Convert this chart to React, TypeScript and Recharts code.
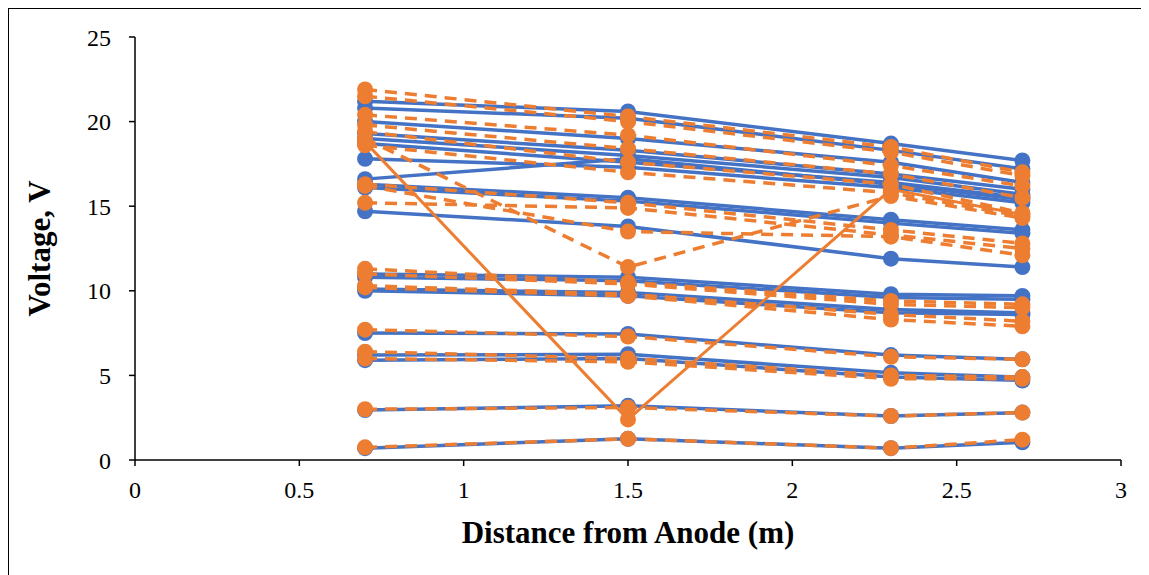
import React from 'react';
import { LineChart, Line, XAxis, YAxis } from 'recharts';

const xDistances = [0.7, 1.5, 2.3, 2.7];
const xTicks = [0, 0.5, 1, 1.5, 2, 2.5, 3];
const yTicks = [0, 5, 10, 15, 20, 25];

// Blue solid series (voltage at each distance)
const blueSeries: number[][] = [
  [21.2, 20.6, 18.7, 17.7],
  [20.8, 20.2, 18.3, 17.2],
  [20.0, 19.0, 17.6, 16.4],
  [19.3, 18.3, 16.9, 16.0],
  [19.0, 18.0, 16.7, 15.7],
  [18.7, 17.6, 16.4, 15.5],
  [17.8, 17.3, 16.1, 15.2],
  [16.6, 17.8, 16.3, 15.4],
  [16.3, 15.5, 14.2, 13.6],
  [16.1, 15.3, 14.0, 13.4],
  [14.7, 13.8, 11.9, 11.4],
  [11.0, 10.8, 9.8, 9.7],
  [10.8, 10.6, 9.6, 9.5],
  [10.1, 9.9, 8.9, 8.7],
  [10.0, 9.7, 8.7, 8.6],
  [7.5, 7.45, 6.2, 5.95],
  [6.2, 6.25, 5.15, 4.9],
  [5.9, 6.0, 4.9, 4.7],
  [2.95, 3.2, 2.6, 2.8],
  [0.7, 1.25, 0.7, 1.05],
];

// Orange dashed series
const orangeDashedSeries: number[][] = [
  [21.9, 20.3, 18.5, 17.0],
  [21.5, 20.0, 18.2, 16.8],
  [20.4, 19.2, 17.4, 16.2],
  [19.8, 18.4, 16.9, 15.5],
  [19.4, 17.6, 16.3, 14.6],
  [19.0, 11.4, 15.6, 14.3],
  [18.6, 17.0, 15.8, 14.4],
  [16.3, 15.2, 13.6, 12.8],
  [16.2, 13.5, 13.2, 12.1],
  [15.2, 14.9, 13.3, 12.5],
  [11.3, 10.5, 9.4, 9.2],
  [11.0, 10.4, 9.2, 9.0],
  [10.3, 9.8, 8.6, 8.2],
  [10.2, 9.7, 8.3, 7.9],
  [7.7, 7.3, 6.1, 5.95],
  [6.4, 6.0, 5.0, 4.9],
  [6.0, 5.8, 4.8, 4.8],
  [3.0, 3.1, 2.6, 2.8],
  [0.75, 1.25, 0.7, 1.2],
];

// Orange solid series
const orangeSolidSeries: number[][] = [[18.8, 2.4, 16.0, 14.5]];

const BLUE = '#4472C4';
const ORANGE = '#ED7D31';
const FONT = "'Liberation Serif', 'Times New Roman', serif";

const toPoints = (vals: number[]) => vals.map((v, i) => ({ x: xDistances[i], y: v }));

const XTitle = (props: any) => {
  const vb = props.viewBox || {};
  return (
    <text x={vb.x + vb.width / 2} y={vb.y + 83} textAnchor="middle" style={{ fontFamily: FONT, fontWeight: 'bold', fontSize: 31 }} fill="#000">
      Distance from Anode (m)
    </text>
  );
};

const YTitle = (props: any) => {
  const vb = props.viewBox || {};
  const cx = 30;
  const cy = vb.y + vb.height / 2;
  return (
    <text x={cx} y={cy} textAnchor="middle" dominantBaseline="central" transform={`rotate(-90, ${cx}, ${cy})`} style={{ fontFamily: FONT, fontWeight: 'bold', fontSize: 31 }} fill="#000">
      Voltage, V
    </text>
  );
};

const tickStyle = { fill: '#000', fontSize: 24, style: { fontFamily: FONT } };

export default function App() {
  return (
    <div style={{ width: 1132, height: 580, border: '1px solid #000', borderBottom: 'none', boxSizing: 'content-box', fontFamily: FONT }}>
      <LineChart width={1132} height={566} margin={{ top: 28, right: 20, left: 66, bottom: 65 }} style={{ fontFamily: FONT }}>
        <XAxis
          type="number"
          dataKey="x"
          domain={[0, 3]}
          ticks={xTicks}
          allowDuplicatedCategory={false}
          height={50}
          stroke="#000"
          tickSize={6}
          tickMargin={15}
          tick={tickStyle}
          axisLine={{ stroke: '#000', strokeWidth: 1.5 }}
          tickLine={{ stroke: '#000', strokeWidth: 1.5 }}
          label={<XTitle />}
        />
        <YAxis
          type="number"
          dataKey="y"
          domain={[0, 25]}
          ticks={yTicks}
          width={60}
          stroke="#000"
          tickSize={6}
          tickMargin={18}
          tick={tickStyle}
          axisLine={{ stroke: '#000', strokeWidth: 1.5 }}
          tickLine={{ stroke: '#000', strokeWidth: 1.5 }}
          label={<YTitle />}
        />
        {blueSeries.map((s, i) => (
          <Line
            key={`b${i}`}
            data={toPoints(s)}
            dataKey="y"
            stroke={BLUE}
            strokeWidth={3.5}
            dot={{ r: 8, fill: BLUE, stroke: BLUE, strokeWidth: 0 }}
            activeDot={false}
            isAnimationActive={false}
          />
        ))}
        {orangeDashedSeries.map((s, i) => (
          <Line
            key={`o${i}`}
            data={toPoints(s)}
            dataKey="y"
            stroke={ORANGE}
            strokeWidth={3.5}
            strokeDasharray="12 8"
            dot={{ r: 8, fill: ORANGE, stroke: ORANGE, strokeWidth: 0, strokeDasharray: '0' }}
            activeDot={false}
            isAnimationActive={false}
          />
        ))}
        {orangeSolidSeries.map((s, i) => (
          <Line
            key={`os${i}`}
            data={toPoints(s)}
            dataKey="y"
            stroke={ORANGE}
            strokeWidth={3}
            dot={{ r: 8, fill: ORANGE, stroke: ORANGE, strokeWidth: 0 }}
            activeDot={false}
            isAnimationActive={false}
          />
        ))}
      </LineChart>
    </div>
  );
}
